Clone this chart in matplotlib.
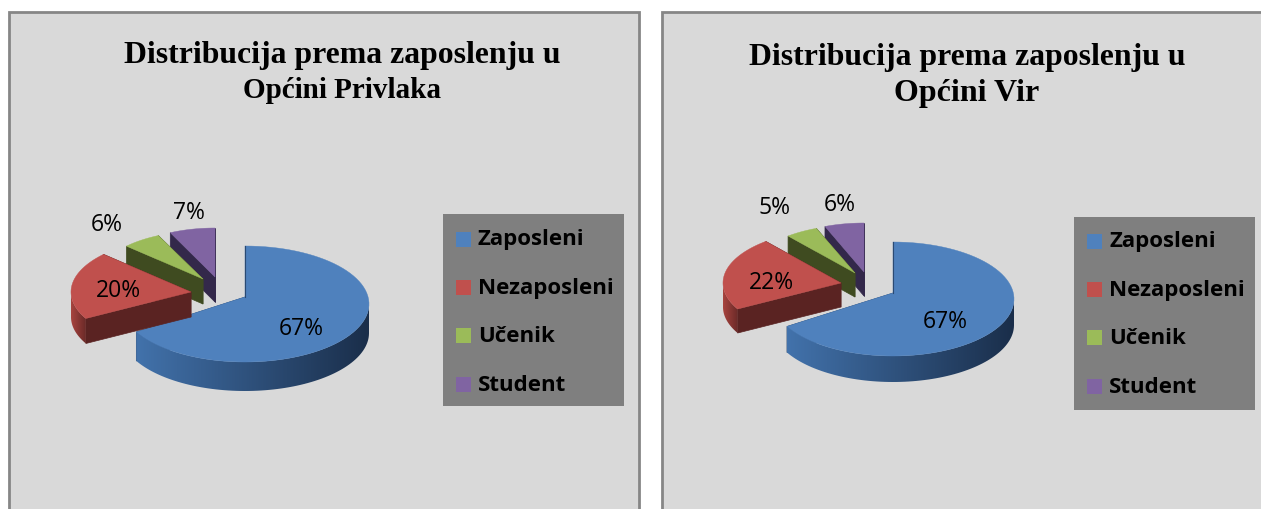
import numpy as np
import matplotlib
matplotlib.use("Agg")
import matplotlib.pyplot as plt
from matplotlib.patches import Polygon, Rectangle
from matplotlib.colors import LinearSegmentedColormap

kategorije = ["Zaposleni", "Nezaposleni", "Učenik", "Student"]
privlaka = [67, 20, 6, 7]
vir = [67, 22, 5, 6]
naslov = "Distribucija prema zaposlenju u"
podnaslov_privlaka = "Općini Privlaka"
podnaslov_vir = "Općini Vir"

boje = ["#4f81bd", "#c0504d", "#9bbb59", "#8064a2"]
boje_zid = ["#2b4a72", "#5a2322", "#3f4b20", "#33284a"]
boje_rub = [("#4272ab", "#1a2e4a"), ("#a8443f", "#6a2a28"), ("#5a7030", "#3f4b20"), ("#4a3a60", "#33284a")]
SIVA = "#d9d9d9"

W, H = 1261, 510
fig = plt.figure(figsize=(W / 100, H / 100), dpi=100, facecolor="white")
ax = fig.add_axes([0, 0, 1, 1])
ax.axis("off")


def luk(sl, t1, t2):
    # tocke na elipsi, kut u stupnjevima
    t = np.radians(np.linspace(t1, t2, 80))
    return np.column_stack([sl["c"][0] + sl["rx"] * np.cos(t), sl["c"][1] - sl["ry"] * np.sin(t)])


def kriska(sl, t1, t2, i, z):
    d = sl["d"]
    vrh = np.array(sl["vrh"], dtype=float)
    dolje = np.array([0, d])
    # radijalni zidovi
    for t in (t1, t2):
        rub = luk(sl, t, t)[0]
        ax.add_patch(Polygon([vrh, rub, rub + dolje, vrh + dolje], fc=boje_zid[i], ec=boje_zid[i], lw=0.5, zorder=z))
    # vanjski rub, samo donja polovica elipse
    kutovi = np.linspace(t1, t2, 300)
    vidljivi = kutovi[np.sin(np.radians(kutovi)) < 0]
    if len(vidljivi) > 1:
        a = luk(sl, vidljivi[0], vidljivi[-1])
        pts = np.vstack([a, a[::-1] + dolje])
        cm = LinearSegmentedColormap.from_list("r", boje_rub[i])
        grad = np.linspace(0, 1, 200).reshape(1, -1)
        im = ax.imshow(grad, extent=(pts[:, 0].min(), pts[:, 0].max(), pts[:, 1].max(), pts[:, 1].min()),
                       aspect="auto", cmap=cm, zorder=z + 0.1)
        im.set_clip_path(Polygon(pts, transform=ax.transData))
    ax.add_patch(Polygon(np.vstack([vrh, luk(sl, t1, t2)]), fc=boje[i], ec=boje[i], lw=0.3, zorder=z + 0.2))


def panel(x0, x1, vrijednosti, kriske, pod, nasl_x, nasl_y, pod_vel, oznake, leg):
    ax.add_patch(Rectangle((x0, 13), x1 - x0, 520, fc=SIVA, ec="#868686", lw=2, zorder=0))
    ax.text(nasl_x, nasl_y[0], naslov, family="Liberation Serif", weight="bold", fontsize=22.9,
            ha="center", va="center", zorder=30)
    ax.text(nasl_x, nasl_y[1], pod, family="Liberation Serif", weight="bold", fontsize=pod_vel,
            ha="center", va="center", zorder=30)

    # kutovi iz vrijednosti, od 12 sati u smjeru kazaljke
    granice = 90 - np.cumsum([0] + vrijednosti) * 3.6
    for i in [0, 3, 2, 1]:
        kriska(kriske[i], granice[i + 1], granice[i], i, 1 + [0, 3, 2, 1].index(i))
    ax.plot([kriske[0]["vrh"][0]] * 2, [kriske[0]["c"][1] - kriske[0]["ry"], kriske[0]["vrh"][1]],
            color=boje_zid[0], lw=0.8, zorder=6)

    for v, (x, y) in zip(vrijednosti, oznake):
        ax.text(x, y, f"{v}%", family="Open Sans", fontsize=16.5, ha="center", va="center", color="black", zorder=31)

    ax.add_patch(Rectangle((leg["x"], leg["y"]), leg["w"], leg["h"], fc="#7f7f7f", ec="none", zorder=20))
    for i, k in enumerate(kategorije):
        y = leg["y0"] + i * leg["dy"]
        ax.add_patch(Rectangle((leg["sx"], y - 7.5), 15, 15, fc=boje[i], ec="none", zorder=21))
        ax.text(leg["sx"] + 22, y, k, family="Open Sans", weight="bold", fontsize=16, ha="left", va="center", zorder=22)


kriske_p = [
    dict(c=(245, 305), vrh=(245, 298), rx=124, ry=58, d=29),
    dict(c=(191, 293), vrh=(191, 293), rx=120, ry=55, d=25),
    dict(c=(203, 280), vrh=(203, 280), rx=105, ry=48, d=25),
    dict(c=(215, 278), vrh=(215, 278), rx=105, ry=49, d=25),
]
kriske_v = [
    dict(c=(893, 300), vrh=(893, 294), rx=121, ry=57, d=26),
    dict(c=(841, 284), vrh=(841, 284), rx=118, ry=54, d=24),
    dict(c=(855, 274), vrh=(855, 274), rx=105, ry=48, d=24),
    dict(c=(864, 273), vrh=(864, 273), rx=106, ry=49, d=24),
]

panel(9, 639, privlaka, kriske_p, podnaslov_privlaka, 342, (56, 91), 21, [(301, 329), (118, 291), (107, 225), (189, 213)],
      dict(x=443, y=215, w=181, h=192, sx=456, y0=240, dy=48.4))
panel(662, 1300, vir, kriske_v, podnaslov_vir, 967, (57, 94), 23, [(945, 322), (771, 283), (774, 208), (840, 205)],
      dict(x=1074, y=218, w=181, h=193, sx=1087, y0=242, dy=48.4))

ax.set_xlim(0, W)
ax.set_ylim(H, 0)
plt.savefig("out.png", dpi=100)
